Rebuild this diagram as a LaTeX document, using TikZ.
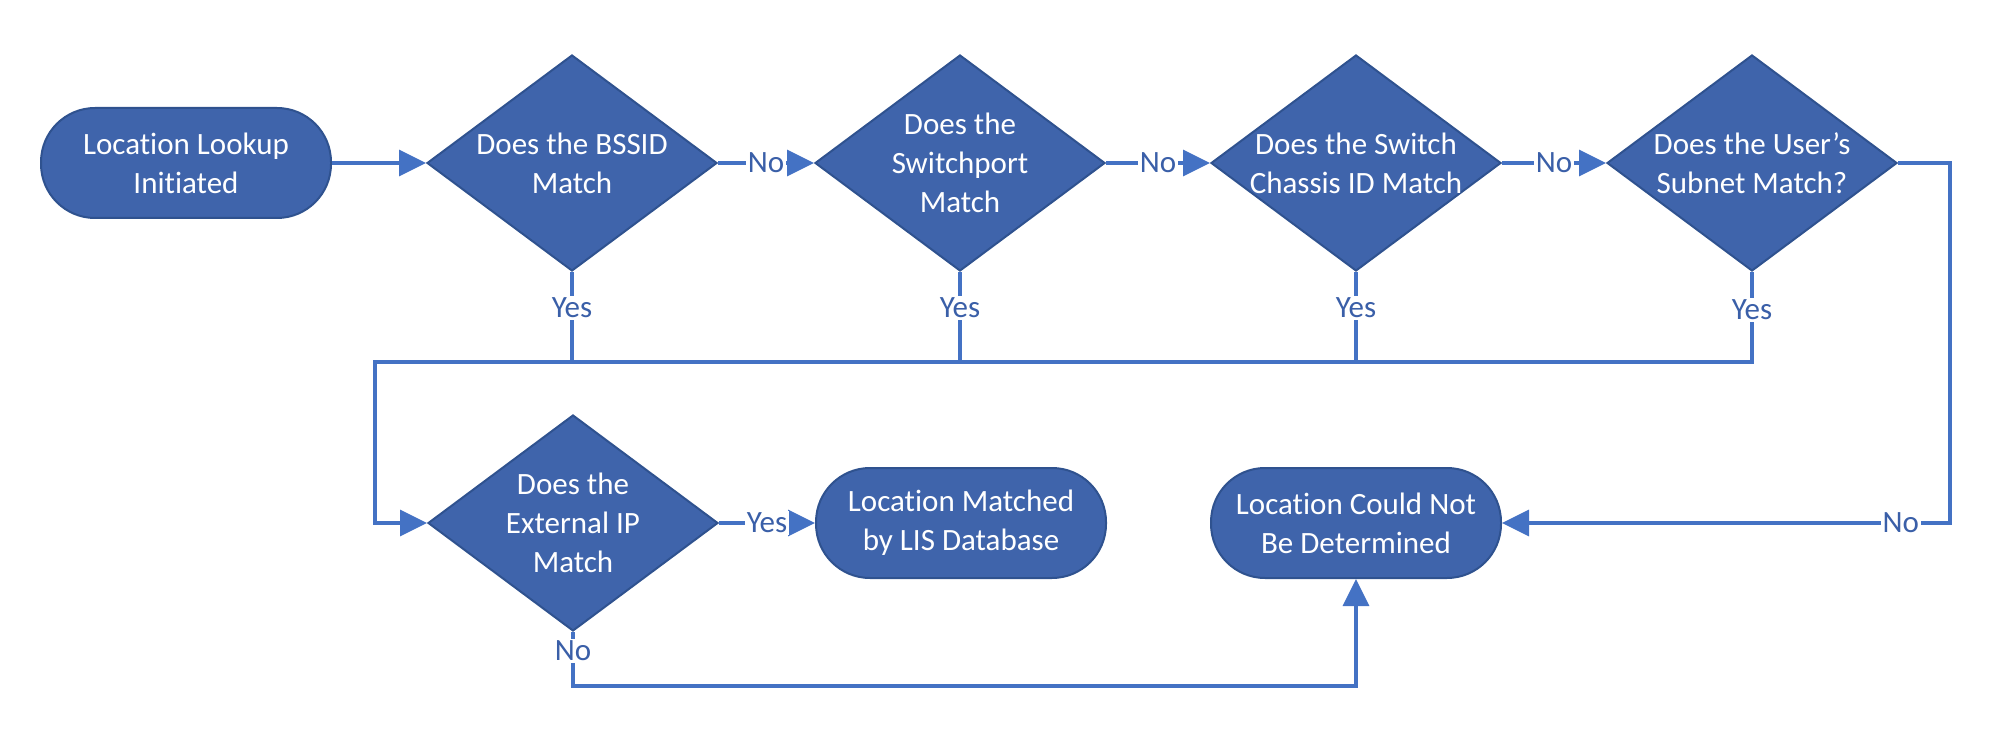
\documentclass[tikz,border=0pt]{standalone}
\usepackage{fontspec}
\setmainfont{Carlito}[Ligatures=NoCommon]
\usetikzlibrary{shapes.geometric,arrows.meta}
\definecolor{shapefill}{HTML}{3F64AB}
\definecolor{shapeline}{HTML}{2F528F}
\definecolor{conncol}{HTML}{4472C4}
\definecolor{labcol}{HTML}{3A5FA8}
\begin{document}
\begin{tikzpicture}[x=0.5pt,y=-0.5pt,
 term/.style={rectangle, rounded corners=27pt, fill=shapefill, draw=shapeline, line width=1pt, minimum width=145pt, minimum height=55pt, inner sep=0pt},
 dia/.style={diamond, fill=shapefill, draw=shapeline, line width=1pt, minimum width=145pt, minimum height=108pt, inner sep=0pt},
 txt/.style={text=white, align=center, font=\fontsize{15.5}{19.5}\selectfont},
 conn/.style={draw=conncol, line width=1.6pt},
 arr/.style={conn, -{Triangle[length=13.5pt,width=13pt]}},
 lab/.style={fill=white, text=labcol, inner sep=1pt, font=\fontsize{15.5}{19.5}\selectfont}
]
\useasboundingbox (0,0) rectangle (1996,737);

% shapes
\node[term] (start) at (186,163) {};
\node[txt] (startt) at (start) {Location Lookup\\Initiated};
\node[dia] (d1) at (572,163) {};
\node[txt] (d1t) at (d1) {Does the BSSID\\Match};
\node[dia] (d2) at (960,163) {};
\node[txt] (d2t) at (d2) {Does the\\Switchport\\Match};
\node[dia] (d3) at (1356,163) {};
\node[txt] (d3t) at (d3) {Does the Switch\\Chassis ID Match};
\node[dia] (d4) at (1752,163) {};
\node[txt] (d4t) at (d4) {Does the User’s\\Subnet Match?};
\node[dia] (d5) at (573,523) {};
\node[txt] (d5t) at (d5) {Does the\\External IP\\Match};
\node[term] (t2) at (961,523) {};
\node[txt] (t2t) at (t2) {Location Matched\\by LIS Database};
\node[term] (t3) at (1356,523) {};
\node[txt] (t3t) at (t3) {Location Could Not\\Be Determined};

% helper coordinates
\coordinate (busL) at (375,362);
\coordinate (rc) at (1950,163);
\coordinate (bl) at (573,686);

% connectors
\draw[arr] (start.east) -- (d1.west);
\draw[arr] (d1.east) -- node[lab]{No} (d2.west);
\draw[arr] (d2.east) -- node[lab]{No} (d3.west);
\draw[arr] (d3.east) -- node[lab]{No} (d4.west);

\draw[conn] (d1.south) -- node[lab,pos=0.4]{Yes} (d1.south |- busL);
\draw[conn] (d2.south) -- node[lab,pos=0.4]{Yes} (d2.south |- busL);
\draw[conn] (d3.south) -- node[lab,pos=0.4]{Yes} (d3.south |- busL);
\draw[arr] (d4.south) -- node[lab,pos=0.42]{Yes} (d4.south |- busL) -- (busL) |- (d5.west);

\draw[arr] (d5.east) -- node[lab]{Yes} (t2.west);
\draw[arr] (d4.east) -- (rc) |- node[lab,pos=0.555]{No} (t3.east);
\draw[arr] (d5.south) -- node[lab,pos=0.35]{No} (bl) -| (t3.south);
\end{tikzpicture}
\end{document}
